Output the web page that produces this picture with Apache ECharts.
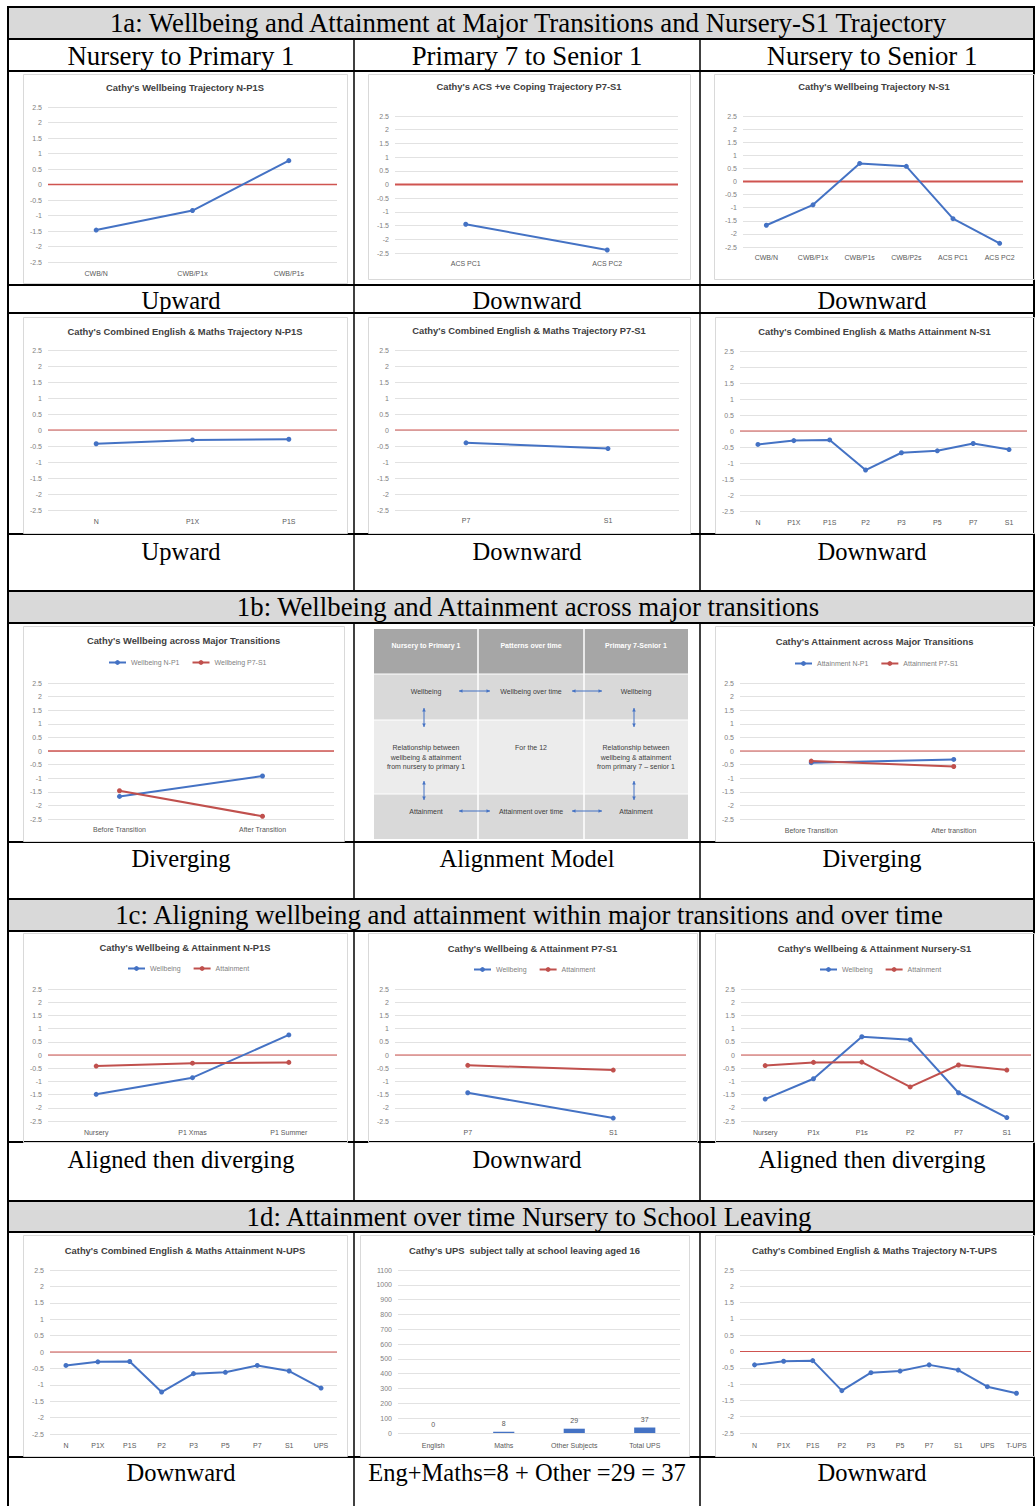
<!DOCTYPE html>
<html><head><meta charset="utf-8">
<script src="https://cdn.jsdelivr.net/npm/echarts/dist/echarts.min.js"></script>
<style>html,body{margin:0;padding:0;background:#fff}#c{width:1036px;height:1506px}</style>
</head><body><div id="c"></div>
<script>
// ---------- DATA ----------
const sectionTitles = [
  '1a: Wellbeing and Attainment at Major Transitions and Nursery-S1 Trajectory',
  '1b: Wellbeing and Attainment across major transitions',
  '1c: Aligning wellbeing and attainment within major transitions and over time',
  '1d: Attainment over time Nursery to School Leaving'
];
const columnHeads = ['Nursery to Primary 1', 'Primary 7 to Senior 1', 'Nursery to Senior 1'];
const rowLabels1 = ['Upward', 'Downward', 'Downward'];
const rowLabels2 = ['Upward', 'Downward', 'Downward'];
const rowLabels3 = ['Diverging', 'Alignment Model', 'Diverging'];
const rowLabels4 = ['Aligned then diverging', 'Downward', 'Aligned then diverging'];
const rowLabels5 = ['Downward', 'Eng+Maths=8 + Other =29 = 37', 'Downward'];

const baseline = 0; // red reference line value

const catsWbNP1 = ['CWB/N', 'CWB/P1x', 'CWB/P1s'];
const wbNP1 = [-1.47, -0.84, 0.77];
const catsAcs = ['ACS PC1', 'ACS PC2'];
const acsP7S1 = [-1.45, -2.39];
const catsWbNS1 = ['CWB/N', 'CWB/P1x', 'CWB/P1s', 'CWB/P2s', 'ACS PC1', 'ACS PC2'];
const wbNS1 = [-1.67, -0.89, 0.69, 0.58, -1.42, -2.36];

const catsAttNP1 = ['N', 'P1X', 'P1S'];
const attNP1 = [-0.43, -0.31, -0.29];
const catsAttP7S1 = ['P7', 'S1'];
const attP7S1 = [-0.4, -0.58];
const catsAttNS1 = ['N', 'P1X', 'P1S', 'P2', 'P3', 'P5', 'P7', 'S1'];
const attNS1 = [-0.42, -0.3, -0.28, -1.22, -0.68, -0.62, -0.39, -0.58];

const catsTransW = ['Before Transition', 'After Transition'];
const wbTransNP1 = [-1.67, -0.92];
const wbTransP7S1 = [-1.46, -2.4];
const catsTransA = ['Before Transition', 'After transition'];
const attTransNP1 = [-0.43, -0.31];
const attTransP7S1 = [-0.37, -0.57];

const catsWANP1 = ['Nursery', 'P1 Xmas', 'P1 Summer'];
const wbWANP1 = [-1.49, -0.86, 0.76];
const attWANP1 = [-0.42, -0.31, -0.28];
const catsWAP7S1 = ['P7', 'S1'];
const wbWAP7S1 = [-1.43, -2.39];
const attWAP7S1 = [-0.39, -0.57];
const catsWANS1 = ['Nursery', 'P1x', 'P1s', 'P2', 'P7', 'S1'];
const wbWANS1 = [-1.67, -0.9, 0.69, 0.58, -1.43, -2.37];
const attWANS1 = [-0.4, -0.28, -0.27, -1.21, -0.38, -0.57];

const catsAttNUPS = ['N', 'P1X', 'P1S', 'P2', 'P3', 'P5', 'P7', 'S1', 'UPS'];
const attNUPS = [-0.41, -0.3, -0.29, -1.22, -0.66, -0.62, -0.41, -0.58, -1.1];
const catsUps = ['English', 'Maths', 'Other Subjects', 'Total UPS'];
const upsTally = [0, 8, 29, 37];
const catsAttNTUPS = ['N', 'P1X', 'P1S', 'P2', 'P3', 'P5', 'P7', 'S1', 'UPS', 'T-UPS'];
const attNTUPS = [-0.41, -0.3, -0.28, -1.2, -0.65, -0.6, -0.41, -0.57, -1.08, -1.28];

const modelHeads = ['Nursery to Primary 1', 'Patterns over time', 'Primary 7-Senior 1'];
const modelRow1 = ['Wellbeing', 'Wellbeing over time', 'Wellbeing'];
const modelRow2 = ['Relationship between\nwellbeing & attainment\nfrom nursery to primary 1', 'For the 12', 'Relationship between\nwellbeing & attainment\nfrom primary 7 \u2013 senior 1'];
const modelRow3 = ['Attainment', 'Attainment over time', 'Attainment'];

// ---------- BUILD ----------
const BLUE = '#4472c4', RED = '#c0504d', ZERO = '#cf5450';
const FF = '"Liberation Sans", Arial, sans-serif';
const SERIF = '"Liberation Serif", "Times New Roman", serif';
const grids = [], xAxes = [], yAxes = [], series = [], legends = [], graphics = [];

function txt(x, y, text, font, fill, align) {
  return { type: 'text', x: x, y: y, silent: true,
    style: { text: text, font: font, fill: fill || '#000', align: align || 'center', verticalAlign: 'middle' } };
}
function ln(x1, y1, x2, y2, color, w) {
  return { type: 'line', silent: true, shape: { x1: x1, y1: y1, x2: x2, y2: y2 }, style: { stroke: color, lineWidth: w } };
}

function chart(o) {
  const gi = grids.length;
  const [x0, yT, x1, yB] = o.plot;
  grids.push({ left: x0, top: yT, width: x1 - x0, height: yB - yT, containLabel: false, outerBoundsMode: 'none' });
  const cx = xAxes.length;
  xAxes.push({ type: 'category', gridIndex: gi, data: o.cats, boundaryGap: true,
    axisLine: { show: false }, axisTick: { show: false }, splitLine: { show: false },
    axisLabel: { interval: 0, fontSize: 7, color: '#595959', fontFamily: FF, margin: o.labelY - yB - 4 } });
  const yi = yAxes.length;
  yAxes.push({ type: 'value', gridIndex: gi, min: o.min !== undefined ? o.min : -2.5, max: o.max !== undefined ? o.max : 2.5,
    interval: o.interval || 0.5,
    axisLine: { show: false }, axisTick: { show: false },
    axisLabel: { fontSize: 7, color: '#7f7f7f', fontFamily: FF, margin: 6, formatter: function (v) { return String(v); } },
    splitLine: { lineStyle: { color: '#e2e2e2', width: 1 } } });
  if (!o.bar) {
    // hidden 0..1 axis so the reference line spans the full plot width
    const zx = xAxes.length;
    xAxes.push({ type: 'value', gridIndex: gi, min: 0, max: 1, show: false });
    series.push({ type: 'line', name: 'zero' + gi, xAxisIndex: zx, yAxisIndex: yi, data: [[0, baseline], [1, baseline]],
      symbol: 'none', silent: true, z: 1, animation: false,
      lineStyle: { color: ZERO, width: o.zw || 1.5 }, itemStyle: { color: ZERO } });
  }
  o.lines.forEach(function (s) {
    const base = { name: s.name, xAxisIndex: cx, yAxisIndex: yi, data: s.data, animation: false };
    if (o.bar) {
      series.push(Object.assign(base, { type: 'bar', barWidth: '30%', itemStyle: { color: BLUE },
        label: { show: true, position: 'top', distance: 5, fontSize: 7, color: '#595959', fontFamily: FF } }));
    } else {
      series.push(Object.assign(base, { type: 'line', symbol: 'circle', symbolSize: 5, z: 3,
        lineStyle: { color: s.color, width: 2 }, itemStyle: { color: s.color } }));
    }
  });
  const [bx0, by0, bx1, by1] = o.box;
  graphics.push({ type: 'rect', silent: true, shape: { x: bx0 + 0.5, y: by0 + 0.5, width: bx1 - bx0, height: by1 - by0 },
    style: { fill: 'none', stroke: '#d9d9d9', lineWidth: 1 } });
  graphics.push(txt((bx0 + bx1) / 2, o.titleY, o.title, 'bold 9.4px ' + FF, '#404040'));
  if (o.legend) {
    legends.push({ data: o.lines.map(function (s) { return s.name; }), left: o.legend[0], top: o.legend[1] - 4,
      itemWidth: 17, itemHeight: 6, itemGap: 12, padding: 0,
      textStyle: { fontSize: 7, color: '#7f7f7f', fontFamily: FF } });
  }
}

// Row 1a charts
chart({ box: [23, 74, 347, 283], plot: [48, 107, 337, 262], labelY: 274, titleY: 87,
  title: "Cathy's Wellbeing Trajectory N-P1S", cats: catsWbNP1, lines: [{ name: 'Wellbeing N-P1S', data: wbNP1, color: BLUE }] });
chart({ box: [368, 74, 690, 279], plot: [395, 116, 678, 253], labelY: 264, titleY: 86, zw: 2,
  title: "Cathy's ACS +ve Coping Trajectory P7-S1", cats: catsAcs, lines: [{ name: 'ACS P7-S1', data: acsP7S1, color: BLUE }] });
chart({ box: [714, 74, 1034, 279], plot: [743, 116, 1023, 247], labelY: 258, titleY: 86, zw: 2,
  title: "Cathy's Wellbeing Trajectory N-S1", cats: catsWbNS1, lines: [{ name: 'Wellbeing N-S1', data: wbNS1, color: BLUE }] });
// Row 1a second row
chart({ box: [23, 317, 347, 533], plot: [48, 350, 337, 510], labelY: 522, titleY: 331, zw: 1.2,
  title: "Cathy's Combined English & Maths Trajectory N-P1S", cats: catsAttNP1, lines: [{ name: 'Attainment N-P1S', data: attNP1, color: BLUE }] });
chart({ box: [368, 317, 690, 533], plot: [395, 350, 679, 510], labelY: 521, titleY: 330, zw: 1.2,
  title: "Cathy's Combined English & Maths Trajectory P7-S1", cats: catsAttP7S1, lines: [{ name: 'Attainment P7-S1 traj', data: attP7S1, color: BLUE }] });
chart({ box: [715, 317, 1034, 533], plot: [740, 351, 1027, 511], labelY: 523, titleY: 331, zw: 1.2,
  title: "Cathy's Combined English & Maths Attainment N-S1", cats: catsAttNS1, lines: [{ name: 'Attainment N-S1', data: attNS1, color: BLUE }] });
// 1b
chart({ box: [23, 626, 344, 841], plot: [48, 683, 334, 819], labelY: 830, titleY: 640, legend: [108, 663], zw: 1.5,
  title: "Cathy's Wellbeing across Major Transitions", cats: catsTransW,
  lines: [{ name: 'Wellbeing N-P1', data: wbTransNP1, color: BLUE }, { name: 'Wellbeing P7-S1', data: wbTransP7S1, color: RED }] });
chart({ box: [715, 626, 1034, 841], plot: [740, 683, 1025, 819], labelY: 831, titleY: 641, legend: [794, 664], zw: 1.2,
  title: "Cathy's Attainment across Major Transitions", cats: catsTransA,
  lines: [{ name: 'Attainment N-P1', data: attTransNP1, color: BLUE }, { name: 'Attainment P7-S1', data: attTransP7S1, color: RED }] });
// 1c
chart({ box: [23, 933, 347, 1142], plot: [48, 989, 337, 1121], labelY: 1133, titleY: 947, legend: [127, 969], zw: 1.2,
  title: "Cathy's Wellbeing & Attainment N-P1S", cats: catsWANP1,
  lines: [{ name: 'Wellbeing', data: wbWANP1, color: BLUE }, { name: 'Attainment', data: attWANP1, color: RED }] });
chart({ box: [368, 933, 697, 1142], plot: [395, 989, 686, 1121], labelY: 1133, titleY: 948, legend: [473, 970], zw: 1.2,
  title: "Cathy's Wellbeing & Attainment P7-S1", cats: catsWAP7S1,
  lines: [{ name: 'Wellbeing', data: wbWAP7S1, color: BLUE }, { name: 'Attainment', data: attWAP7S1, color: RED }] });
chart({ box: [715, 933, 1034, 1142], plot: [741, 989, 1031, 1121], labelY: 1133, titleY: 948, legend: [819, 970], zw: 1.2,
  title: "Cathy's Wellbeing & Attainment Nursery-S1", cats: catsWANS1,
  lines: [{ name: 'Wellbeing', data: wbWANS1, color: BLUE }, { name: 'Attainment', data: attWANS1, color: RED }] });
// 1d
chart({ box: [23, 1235, 347, 1456], plot: [50, 1270, 337, 1434], labelY: 1446, titleY: 1250, zw: 1.2,
  title: "Cathy's Combined English & Maths Attainment N-UPS", cats: catsAttNUPS, lines: [{ name: 'Attainment N-UPS', data: attNUPS, color: BLUE }] });
chart({ box: [360, 1235, 689, 1456], plot: [398, 1270, 680, 1433], labelY: 1446, titleY: 1250, bar: true,
  min: 0, max: 1100, interval: 100,
  title: "Cathy's UPS  subject tally at school leaving aged 16", cats: catsUps, lines: [{ name: 'UPS tally', data: upsTally, color: BLUE }] });
chart({ box: [715, 1235, 1034, 1456], plot: [740, 1270, 1031, 1433], labelY: 1446, titleY: 1250, zw: 1.2,
  title: "Cathy's Combined English & Maths Trajectory N-T-UPS", cats: catsAttNTUPS, lines: [{ name: 'Attainment N-T-UPS', data: attNTUPS, color: BLUE }] });

// ---------- Alignment model (graphic) ----------
const mx = [374, 478, 584, 688], my = [629, 674, 720, 794, 839];
const mfill = ['#a6a6a6', '#d9d9d9', '#ececec', '#d9d9d9'];
const modelG = [];
for (let r = 0; r < 4; r++) {
  modelG.push({ type: 'rect', silent: true, shape: { x: mx[0], y: my[r], width: mx[3] - mx[0], height: my[r + 1] - my[r] }, style: { fill: mfill[r] } });
}
modelG.push(ln(mx[1], my[0], mx[1], my[4], '#ffffff', 1.5));
modelG.push(ln(mx[2], my[0], mx[2], my[4], '#ffffff', 1.5));
for (let r = 1; r < 4; r++) modelG.push(ln(mx[0], my[r], mx[3], my[r], '#ffffff', 1));
const mcx = [426, 531, 636];
const MF = '7px ' + FF;
for (let c = 0; c < 3; c++) {
  modelG.push(txt(mcx[c], 645, modelHeads[c], 'bold ' + MF, '#ffffff'));
  modelG.push(txt(mcx[c], 691, modelRow1[c], MF, '#404040'));
  modelG.push(txt(mcx[c], 811, modelRow3[c], MF, '#404040'));
}
modelG.push({ type: 'text', x: mcx[0], y: 757, silent: true, style: { text: modelRow2[0], font: MF, fill: '#404040', align: 'center', verticalAlign: 'middle', lineHeight: 9.5 } });
modelG.push(txt(mcx[1], 747, modelRow2[1], MF, '#404040'));
modelG.push({ type: 'text', x: mcx[2], y: 757, silent: true, style: { text: modelRow2[2], font: MF, fill: '#404040', align: 'center', verticalAlign: 'middle', lineHeight: 9.5 } });
function dArrow(x1, y1, x2, y2) {
  const out = [ln(x1, y1, x2, y2, BLUE, 1)];
  const dx = x2 - x1, dy = y2 - y1, L = Math.hypot(dx, dy), ux = dx / L, uy = dy / L, px = -uy, py = ux, h = 3.5, w = 1.8;
  out.push({ type: 'polygon', silent: true, shape: { points: [[x2, y2], [x2 - ux * h + px * w, y2 - uy * h + py * w], [x2 - ux * h - px * w, y2 - uy * h - py * w]] }, style: { fill: BLUE } });
  out.push({ type: 'polygon', silent: true, shape: { points: [[x1, y1], [x1 + ux * h + px * w, y1 + uy * h + py * w], [x1 + ux * h - px * w, y1 + uy * h - py * w]] }, style: { fill: BLUE } });
  return out;
}
[[459, 691, 490, 691], [572, 691, 602, 691], [459, 811, 490, 811], [572, 811, 602, 811],
 [424, 708, 424, 727], [424, 781, 424, 800], [634, 708, 634, 727], [634, 781, 634, 800]].forEach(function (a) {
  dArrow(a[0], a[1], a[2], a[3]).forEach(function (e) { modelG.push(e); });
});

// ---------- Table frame ----------
const L = 8, R = 1034, C1 = 354, C2 = 700;
const colCx = [181, 527, 872];
const tableG = [];
[[7, 39], [591, 623], [899, 931], [1201, 1232]].forEach(function (s) {
  tableG.push({ type: 'rect', silent: true, shape: { x: L, y: s[0], width: R - L, height: s[1] - s[0] }, style: { fill: '#d9d9d9' } });
});
const hLines = [7, 39, 71, 285, 313, 534, 591, 623, 842, 899, 931, 1142, 1201, 1232, 1457];
hLines.forEach(function (y) { tableG.push(ln(L, y, R, y, '#000', 2)); });
tableG.push(ln(L, 6, L, 1506, '#000', 2));
tableG.push(ln(R, 6, R, 1506, '#000', 2));
[[39, 591], [623, 899], [931, 1201], [1232, 1506]].forEach(function (s) {
  tableG.push(ln(C1, s[0], C1, s[1], '#000', 1.5));
  tableG.push(ln(C2, s[0], C2, s[1], '#000', 1.5));
});
const HF = '26.8px ' + SERIF, LF = '24.5px ' + SERIF;
tableG.push(txt(528, 23, sectionTitles[0], HF));
tableG.push(txt(528, 607, sectionTitles[1], HF));
tableG.push(txt(529, 915, sectionTitles[2], HF));
tableG.push(txt(529, 1217, sectionTitles[3], HF));
for (let c = 0; c < 3; c++) {
  tableG.push(txt(colCx[c], 56, columnHeads[c], HF));
  tableG.push(txt(colCx[c], 300, rowLabels1[c], LF));
  tableG.push(txt(colCx[c], 551, rowLabels2[c], LF));
  tableG.push(txt(colCx[c], 858, rowLabels3[c], LF));
  tableG.push(txt(colCx[c], 1159, rowLabels4[c], LF));
  tableG.push(txt(colCx[c], 1472, rowLabels5[c], LF));
}

const ec = echarts.init(document.getElementById('c'), null, { renderer: 'svg' });
ec.setOption({
  animation: false,
  backgroundColor: '#ffffff',
  grid: grids, xAxis: xAxes, yAxis: yAxes, legend: legends, series: series,
  graphic: { elements: tableG.concat(modelG).concat(graphics) }
});
</script></body></html>
